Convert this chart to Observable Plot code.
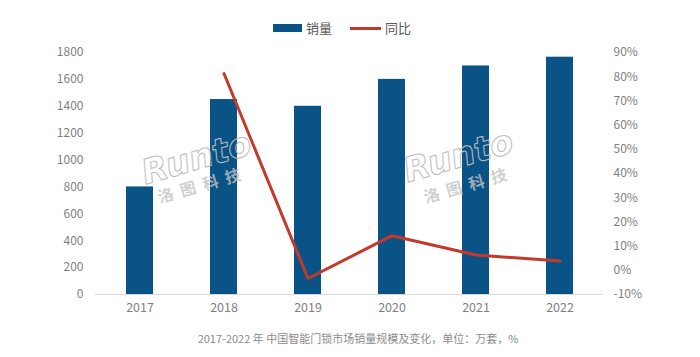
<!DOCTYPE html>
<html>
<head>
<meta charset="utf-8">
<script src="https://cdn.jsdelivr.net/npm/d3@7"></script>
<script src="https://cdn.jsdelivr.net/npm/@observablehq/plot@0.6"></script>
<style>
  body { margin: 0; background: #fff; font-family: "Noto Sans CJK SC", "Noto Sans", sans-serif; }
  #wrap { position: relative; width: 700px; height: 357px; overflow: hidden; }
  #legend { position: absolute; top: 20px; left: 273px; height: 16px; display: flex; align-items: center; font-size: 13px; color: #595959; line-height: 16px; }
  #legend .item { display: flex; align-items: center; margin-right: 18px; }
  #legend .sw-bar { width: 29px; height: 8px; background: #0a5386; margin-right: 4px; }
  #legend .sw-line { width: 31px; height: 3px; background: #c3392a; margin-right: 4px; }
  #chart { position: absolute; top: 40px; left: 0; }
  #caption { position: absolute; top: 330px; left: 8px; width: 700px; text-align: center; font-size: 11px; color: #8c8c8c; line-height: 16px; }
</style>
</head>
<body>
<div id="wrap">
  <div id="legend"></div>
  <div id="chart"></div>
  <div id="caption"></div>
</div>
<script>
// ---- data ----
const years = ["2017", "2018", "2019", "2020", "2021", "2022"];
const sales = [800, 1450, 1400, 1600, 1700, 1765];            // 销量 (万套)
const yoyYears = ["2018", "2019", "2020", "2021", "2022"];
const yoy = [81.3, -3.4, 14.3, 6.3, 3.8];                      // 同比 (%)
const leftTicks = [0, 200, 400, 600, 800, 1000, 1200, 1400, 1600, 1800];
const rightTicks = [-10, 0, 10, 20, 30, 40, 50, 60, 70, 80, 90];
const seriesNames = ["销量", "同比"];
const captionText = "2017-2022 年 中国智能门锁市场销量规模及变化，单位：万套，%";
const watermarkLatin = "Runto";
const watermarkCJK = "洛  图  科  技";

// ---- helpers (map right-axis % onto left scale) ----
const pctToLeft = p => (p + 10) * 18;

const barData = years.map((y, i) => ({year: y, value: sales[i]}));
const lineData = yoyYears.map((y, i) => ({year: y, value: pctToLeft(yoy[i])}));

const BLUE = "#0a5386", RED = "#c3392a", TICK = "#7f7f7f", WM = "#c4c4c4";
const FONT = "Noto Sans CJK SC, Noto Sans, sans-serif";

const wm = (txt, dx, dy, size, extra) => Plot.text([txt], Object.assign({
  frameAnchor: "top-left", dx, dy, text: d => d, rotate: -16, fontSize: size,
  textAnchor: "middle", lineAnchor: "middle", fill: WM, fillOpacity: 0.8
}, extra));

const chart = Plot.plot({
  width: 700,
  height: 280,
  marginTop: 12,
  marginBottom: 26,
  marginLeft: 95,
  marginRight: 97,
  style: {fontFamily: FONT, fontSize: "12px", color: TICK, background: "transparent"},
  x: {domain: years, paddingInner: 0.68, paddingOuter: 0.34, label: null},
  y: {domain: [0, 1800], label: null},
  marks: [
    Plot.ruleY([0], {stroke: "#d9d9d9", strokeWidth: 1}),
    Plot.barY(barData, {x: "year", y: "value", fill: BLUE}),
    wm(watermarkLatin, 101, 106, 34, {fontStyle: "italic", fontFamily: "DejaVu Sans", fontWeight: "bold", fill: "none", stroke: "#bdbdbd", strokeWidth: 1}),
    wm(watermarkCJK, 104, 134, 16, {fontWeight: "bold"}),
    wm(watermarkLatin, 363, 104, 34, {fontStyle: "italic", fontFamily: "DejaVu Sans", fontWeight: "bold", fill: "none", stroke: "#bdbdbd", strokeWidth: 1}),
    wm(watermarkCJK, 370, 134, 16, {fontWeight: "bold"}),
    Plot.lineY(lineData, {x: "year", y: "value", stroke: RED, strokeWidth: 3, strokeLinejoin: "miter"}),
    Plot.axisY(leftTicks, {anchor: "left", tickSize: 0, tickPadding: 12, label: null, fill: TICK, fontSize: 12, tickFormat: d => String(d)}),
    Plot.axisY(rightTicks.map(pctToLeft), {anchor: "right", tickSize: 0, tickPadding: 10, label: null, fill: TICK, fontSize: 12,
      tickFormat: v => Math.round(v / 18 - 10) + "%"}),
    Plot.axisX({tickSize: 0, tickPadding: 9, label: null, fill: TICK, fontSize: 12.5})
  ]
});
document.getElementById("chart").appendChild(chart);

// ---- legend ----
const legend = document.getElementById("legend");
seriesNames.forEach((name, i) => {
  const item = document.createElement("div");
  item.className = "item";
  const sw = document.createElement("div");
  sw.className = i === 0 ? "sw-bar" : "sw-line";
  const t = document.createElement("span");
  t.textContent = name;
  item.appendChild(sw); item.appendChild(t);
  legend.appendChild(item);
});
document.getElementById("caption").textContent = captionText;
</script>
</body>
</html>
